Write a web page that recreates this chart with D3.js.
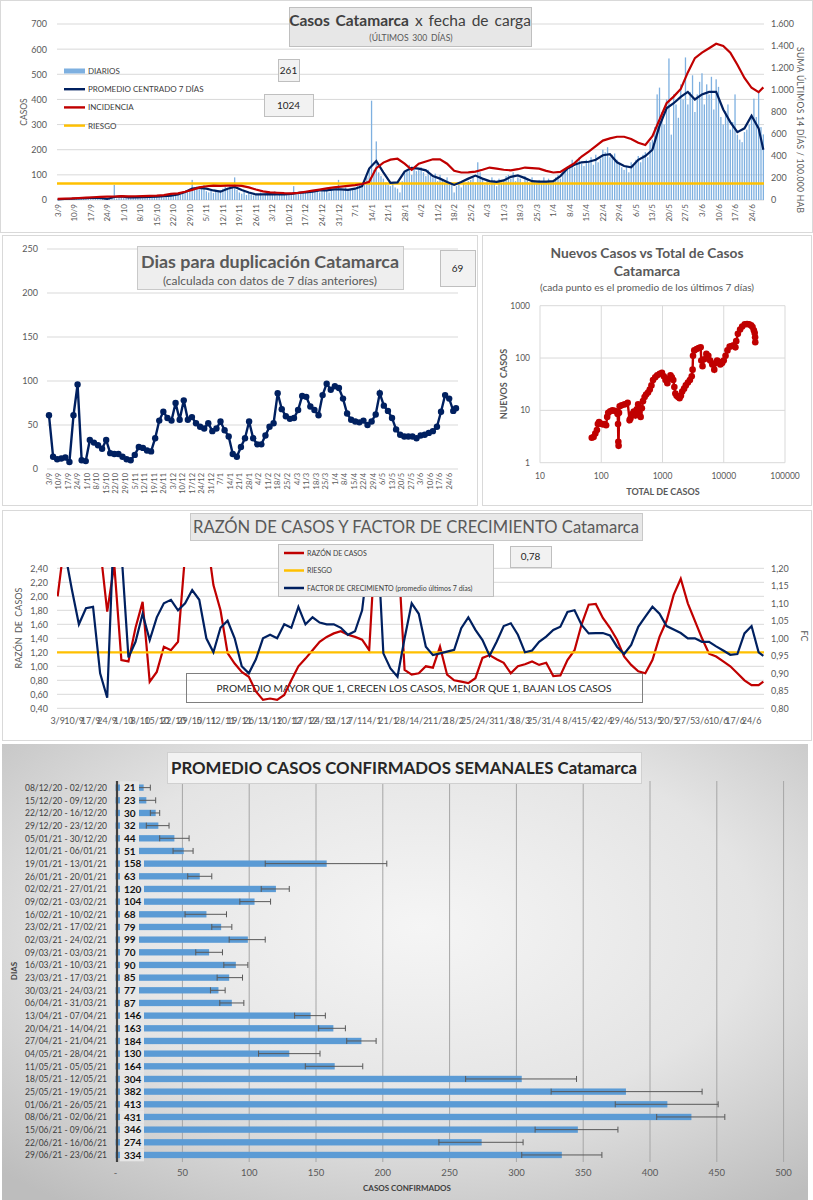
<!DOCTYPE html>
<html>
<head>
<meta charset="utf-8">
<script src="https://cdn.jsdelivr.net/npm/d3@7"></script>
<style>
  body { margin: 0; background: #fff; }
  svg { display: block; font-family: Lato, 'Open Sans', sans-serif; }
</style>
</head>
<body>
<svg id="chart" width="813" height="1200"></svg>
<script>
// ---------- data ----------
const weekLabels = ["3/9","10/9","17/9","24/9","1/10","8/10","15/10","22/10","29/10","5/11","12/11","19/11","26/11",
  "3/12","10/12","17/12","24/12","31/12","7/1","14/1","21/1","28/1","4/2","11/2","18/2","25/2","4/3","11/3","18/3",
  "25/3","1/4","8/4","15/4","22/4","29/4","6/5","13/5","20/5","27/5","3/6","10/6","17/6","24/6"];

// casos diarios, una fila por semana (3/9 ... 29/6)
const diarios = [
  2,4,3,6,2,5,4,  5,3,8,6,4,9,5,  12,8,6,10,4,7,9,  3,5,8,60,6,10,12,
  8,12,9,14,10,7,11,  10,14,8,12,16,9,13,  12,18,14,10,20,15,17,  18,22,25,20,28,30,35,
  45,80,50,55,40,48,60,  35,30,42,28,38,32,40,  45,52,48,60,55,90,40,  30,25,35,20,28,22,18,
  25,20,30,18,22,26,20,  22,35,18,25,20,28,24,  20,25,55,22,28,25,30,  30,28,35,32,40,38,30,
  35,42,38,30,45,40,48,  80,45,38,50,44,40,48,  48,55,60,52,65,90,120,  395,120,233,110,95,85,70,
  60,55,70,50,45,30,75,  110,120,140,100,130,115,125,  130,110,95,120,100,90,105,  75,100,80,65,90,70,60,
  30,55,65,50,70,60,75,  80,95,70,150,110,85,60,  75,60,90,80,55,85,70,  80,95,100,85,110,75,90,
  85,70,95,80,65,90,75,  70,80,65,90,75,85,70,  80,90,100,85,110,120,130,  140,160,130,150,170,145,135,
  160,150,170,140,180,150,165,  200,190,210,170,180,185,160,  145,130,120,135,110,150,140,
  160,175,150,180,190,170,230,  240,290,420,447,350,300,400,  563,260,420,380,327,460,400,
  567,380,430,496,350,420,470,  504,380,460,420,490,360,480,  450,330,300,353,380,280,310,
  420,260,240,230,270,280,300,  340,403,330,427,290,261
];

// dias (indice desde 3/9) de las series de lineas
const lineDays = d3.range(0, 300, 3).concat([299]);

const promedio7 = [
  2,4,5,6,7,9,8,4,12,14,
  10,10,11,12,13,15,17,22,32,45,
  48,45,38,33,45,52,40,30,22,22,
  23,22,22,24,28,30,33,38,38,42,
  42,40,45,55,125,155,110,68,70,113,
  128,125,118,95,85,72,60,72,85,97,
  85,75,72,78,92,98,87,75,73,73,
  75,95,125,140,150,152,160,178,182,150,
  135,130,160,175,200,295,365,385,410,430,
  400,420,430,430,360,310,270,285,335,285,
  200
];

const incidencia = [
  10,12,14,18,22,25,28,30,32,35,
  33,34,36,38,40,45,55,60,75,92,
  115,125,130,128,130,132,128,115,95,78,
  70,66,62,60,65,75,85,95,105,115,
  122,128,135,145,165,290,340,367,375,330,
  275,330,350,370,370,330,265,250,252,258,
  275,295,285,275,270,280,295,290,285,265,
  250,255,295,335,395,440,490,540,560,575,
  575,555,520,500,580,730,880,940,1010,1160,
  1290,1340,1380,1420,1400,1340,1230,1110,1020,980,
  1024
];

const riesgoIncidencia = 150;
const casosTicks = [0,100,200,300,400,500,600,700];
const sumaTicks = [0,200,400,600,800,1000,1200,1400,1600];
const sumaTickLabels = ["0","200","400","600","800","1.000","1.200","1.400","1.600"];
const ultimoDiario = "261", ultimaIncidencia = "1024";

const duplicacion = [
  61,14,11,12,13,8,61,96,10,9,
  33,30,27,23,33,18,17,17,14,11,
  10,16,25,24,21,20,35,55,65,58,
  55,75,56,78,56,59,52,48,46,52,
  43,46,54,44,37,17,14,25,35,54,
  35,28,28,38,48,52,86,68,60,57,
  58,67,83,82,71,67,61,84,97,90,
  94,92,80,63,56,54,53,55,50,54,
  62,86,72,66,58,45,39,37,37,37,
  35,38,39,41,43,48,65,84,80,66,
  69
];
const dupTicks = [0,50,100,150,200,250];
const ultimoDup = "69";

const totalCasos = [70,75,80,85,88,92,98,105,112,120,125,130,140,152,165,178,185,188,190,192,
  195,200,215,240,270,290,300,320,340,360,380,400,420,440,460,480,510,540,580,620,
  660,700,760,820,900,980,1050,1120,1200,1280,1350,1420,1500,1560,1620,1700,1800,1900,2000,2100,
  2250,2400,2600,2800,3000,3100,3150,3300,3600,3900,4200,4300,4500,4800,5200,5600,6000,6500,7000,7400,
  7800,8300,8800,9400,10000,10700,11500,12500,13500,14500,15500,16000,17000,18500,20000,22000,24000,26000,28000,29500,
  31000,32000,32500,32700];
const nuevosCasos = [3.0,3.1,3.6,4.2,5.5,6.0,5.6,5.4,5.5,5.2,7.5,9.0,9.6,10,9.8,9.5,8.5,5.5,2.5,2.1,
  9,12,12.5,13,14,6.5,7,8.5,9.5,8,10.5,13,9,7.5,11,15,18,20,22,25,
  30,38,43,47,50,52,45,38,33,40,47,43,38,28,21,19,18,17,19,23,
  26,30,34,38,45,60,110,140,148,155,160,90,70,95,120,110,90,75,60,80,
  90,85,75,80,90,110,140,165,170,175,160,210,290,350,400,440,445,440,420,390,
  340,300,250,200];
const logTicksX = [10,100,1000,10000,100000];
const logTicksY = [1,10,100,1000];

const razon = [
  2.00,2.8,3.2,3.0,2.9,2.8,2.7,1.78,2.45,1.09,
  1.07,1.55,1.92,0.78,0.92,1.28,1.23,1.35,2.6,3.0,
  3.2,2.9,2.16,1.80,1.19,1.04,0.92,0.85,0.64,0.52,
  0.54,0.52,0.59,0.80,1.00,1.11,1.23,1.35,1.42,1.47,
  1.50,1.45,1.42,1.38,1.23,3.0,3.4,3.2,2.8,0.95,
  0.88,0.90,1.00,0.98,1.28,0.88,0.80,0.78,0.76,0.83,
  1.12,1.16,1.10,1.05,0.90,1.00,1.03,1.07,1.02,1.05,
  0.86,0.87,1.09,1.23,1.60,1.88,1.89,1.69,1.55,1.38,
  1.14,1.02,0.93,0.90,1.09,1.42,1.65,2.02,2.25,1.90,
  1.65,1.40,1.18,1.14,1.07,1.00,0.90,0.80,0.73,0.73,
  0.78
];
const factor = [
  1.30,1.25,1.14,1.04,1.086,1.09,0.90,0.83,1.35,1.25,
  0.945,0.99,1.07,0.995,1.06,1.10,1.11,1.08,1.10,1.138,
  1.11,1.00,0.96,1.03,1.05,1.00,0.92,0.90,0.94,1.00,
  1.01,1.00,1.04,1.03,1.09,1.04,1.06,1.045,1.04,1.04,
  1.03,1.01,1.02,1.08,1.25,1.35,0.957,0.914,0.89,1.00,
  1.10,1.07,0.976,0.952,0.957,0.962,0.967,1.029,1.06,1.024,
  0.995,0.95,0.99,1.035,1.043,1.01,0.96,0.965,0.99,1.005,
  1.024,1.033,1.075,1.08,1.038,1.014,1.015,1.015,1.008,0.976,
  0.955,0.981,1.033,1.062,1.09,1.07,1.035,1.025,1.015,1.00,
  1.00,0.99,0.99,0.977,0.965,0.953,0.955,1.014,1.035,0.96,
  0.95
];
const razonTicks = [0.4,0.6,0.8,1.0,1.2,1.4,1.6,1.8,2.0,2.2,2.4];
const factorTicks = [0.8,0.85,0.9,0.95,1.0,1.05,1.1,1.15,1.2];
const riesgoRazon = 1.2;
const ultimaRazon = "0,78";

const semanas = ["08/12/20 - 02/12/20","15/12/20 - 09/12/20","22/12/20 - 16/12/20","29/12/20 - 23/12/20",
  "05/01/21 - 30/12/20","12/01/21 - 06/01/21","19/01/21 - 13/01/21","26/01/21 - 20/01/21","02/02/21 - 27/01/21",
  "09/02/21 - 03/02/21","16/02/21 - 10/02/21","23/02/21 - 17/02/21","02/03/21 - 24/02/21","09/03/21 - 03/03/21",
  "16/03/21 - 10/03/21","23/03/21 - 17/03/21","30/03/21 - 24/03/21","06/04/21 - 31/03/21","13/04/21 - 07/04/21",
  "20/04/21 - 14/04/21","27/04/21 - 21/04/21","04/05/21 - 28/04/21","11/05/21 - 05/05/21","18/05/21 - 12/05/21",
  "25/05/21 - 19/05/21","01/06/21 - 26/05/21","08/06/21 - 02/06/21","15/06/21 - 09/06/21","22/06/21 - 16/06/21",
  "29/06/21 - 23/06/21"];
const promedioSemanal = [21,23,30,32,44,51,158,63,120,104,68,79,99,70,90,85,77,87,146,163,184,130,164,304,382,413,431,346,274,334];
const errBajo = [17,17,26,23,33,43,112,54,109,93,52,72,85,60,81,76,71,78,134,152,173,107,142,262,326,374,405,314,242,304];
const errAlto = [26,30,33,40,55,58,203,72,130,116,83,87,112,80,99,95,82,96,157,172,195,153,185,345,439,451,456,376,305,364];
const semanalTicks = [0,50,100,150,200,250,300,350,400,450,500];

// ---------- helpers ----------
const svg = d3.select("#chart");
const TXT = "#595959", GRID = "#d9d9d9", NAVY = "#002060", RED = "#c00000", GOLD = "#ffc000";
const coma = (d, n) => d3.format("." + n + "f")(d).replace(".", ",");

function frame(x, y, w, h) {
  svg.append("rect").attr("x", x + 0.5).attr("y", y + 0.5).attr("width", w).attr("height", h)
    .attr("fill", "#fff").attr("stroke", "#d9d9d9");
}
function boxText(x, y, w, h, txt, fill) {
  svg.append("rect").attr("x", x + 0.5).attr("y", y + 0.5).attr("width", w).attr("height", h)
    .attr("fill", fill || "#f2f2f2").attr("stroke", "#bfbfbf");
  svg.append("text").attr("x", x + w / 2).attr("y", y + h / 2 + 3.5).attr("text-anchor", "middle")
    .attr("font-size", 10).attr("fill", "#262626").text(txt);
}
function styleAxis(g, size) {
  g.attr("font-family", null).attr("font-size", size);
  g.select(".domain").remove();
  g.selectAll("text").attr("fill", TXT);
}

// ---------- panel 1: casos x fecha de carga ----------
frame(0, 0, 812, 232);
const x1 = d3.scaleBand().domain(d3.range(diarios.length)).range([57, 764]).paddingInner(0.45);
const cx1 = i => x1(i) + x1.bandwidth() / 2;
const y1 = d3.scaleLinear().domain([0, 700]).range([200, 24]);
const y1r = d3.scaleLinear().domain([0, 1600]).range([200, 24]);

svg.append("g").selectAll("line").data(casosTicks).enter().append("line")
  .attr("x1", 57).attr("x2", 764).attr("y1", d => y1(d)).attr("y2", d => y1(d)).attr("stroke", GRID);

svg.append("g").attr("transform", "translate(57,0)")
  .call(d3.axisLeft(y1).tickValues(casosTicks).tickSize(0).tickPadding(10))
  .call(g => styleAxis(g, 9));
svg.append("g").attr("transform", "translate(764,0)")
  .call(d3.axisRight(y1r).tickValues(sumaTicks).tickSize(0).tickPadding(7).tickFormat((d, i) => sumaTickLabels[i]))
  .call(g => styleAxis(g, 9));

svg.append("g").selectAll("text").data(weekLabels).enter().append("text")
  .attr("transform", (d, i) => "translate(" + (cx1(i * 7) + 3) + ",204) rotate(-90)")
  .attr("text-anchor", "end").attr("font-size", 8).attr("fill", TXT).text(d => d);

svg.append("g").selectAll("rect").data(diarios).enter().append("rect")
  .attr("x", (d, i) => x1(i)).attr("width", x1.bandwidth())
  .attr("y", d => y1(d)).attr("height", d => 200 - y1(d))
  .attr("fill", "#7eb0e0");

svg.append("line").attr("x1", 57).attr("x2", 764)
  .attr("y1", y1r(riesgoIncidencia)).attr("y2", y1r(riesgoIncidencia))
  .attr("stroke", GOLD).attr("stroke-width", 2.5);

const line1 = d3.line().x(d => cx1(d[0])).y(d => d[1]);
svg.append("path").datum(lineDays.map((d, i) => [d, y1(promedio7[i])]))
  .attr("d", line1).attr("fill", "none").attr("stroke", NAVY).attr("stroke-width", 2.2);
svg.append("path").datum(lineDays.map((d, i) => [d, y1r(incidencia[i])]))
  .attr("d", line1).attr("fill", "none").attr("stroke", RED).attr("stroke-width", 2.2);

// legend
const leg1 = [
  {name: "DIARIOS", type: "bar", color: "#7eb0e0"},
  {name: "PROMEDIO CENTRADO 7 DÍAS", type: "line", color: NAVY},
  {name: "INCIDENCIA", type: "line", color: RED},
  {name: "RIESGO", type: "line", color: GOLD}
];
const lg1 = svg.append("g").selectAll("g").data(leg1).enter().append("g")
  .attr("transform", (d, i) => "translate(64," + (71 + i * 18.2) + ")");
lg1.append("rect").attr("x", 0).attr("width", 21)
  .attr("y", d => d.type === "bar" ? -2.5 : -1.2).attr("height", d => d.type === "bar" ? 5 : 2.4)
  .attr("fill", d => d.color);
lg1.append("text").attr("x", 24).attr("y", 3).attr("font-size", 8).attr("fill", "#404040").text(d => d.name);

svg.append("rect").attr("x", 289.5).attr("y", 7.5).attr("width", 242).attr("height", 39)
  .attr("fill", "#e7e7e7").attr("stroke", "#bfbfbf");
const t1 = svg.append("text").attr("x", 410).attr("y", 26).attr("text-anchor", "middle")
  .attr("font-size", 15.5).attr("fill", "#404040").attr("word-spacing", 2);
t1.append("tspan").attr("font-weight", "bold").text("Casos Catamarca");
t1.append("tspan").text(" x fecha de carga");
svg.append("text").attr("x", 411).attr("y", 41).attr("text-anchor", "middle")
  .attr("font-size", 8.6).attr("fill", TXT).attr("word-spacing", 1.5).text("(ÚLTIMOS 300 DÍAS)");

boxText(278, 59, 21, 22, ultimoDiario);
boxText(264, 94, 49, 22, ultimaIncidencia);

svg.append("text").attr("transform", "translate(27,112) rotate(-90)").attr("text-anchor", "middle")
  .attr("font-size", 8.5).attr("fill", TXT).text("CASOS");
svg.append("text").attr("transform", "translate(797,130) rotate(90)").attr("text-anchor", "middle")
  .attr("font-size", 8.5).attr("fill", TXT).attr("textLength", 166).attr("lengthAdjust", "spacing")
  .text("SUMA ÚLTIMOS 14 DÍAS / 100.000 HAB");

// ---------- panel 2: dias para duplicacion ----------
frame(2, 235, 475, 270);
const xD = d3.scaleLinear().domain([0, 299]).range([49, 456]);
const yD = d3.scaleLinear().domain([0, 250]).range([469, 249]);

svg.append("g").selectAll("line").data(dupTicks).enter().append("line")
  .attr("x1", 47).attr("x2", 458).attr("y1", d => yD(d)).attr("y2", d => yD(d)).attr("stroke", GRID);
svg.append("g").attr("transform", "translate(47,0)")
  .call(d3.axisLeft(yD).tickValues(dupTicks).tickSize(0).tickPadding(9))
  .call(g => styleAxis(g, 9));
svg.append("g").selectAll("text").data(weekLabels).enter().append("text")
  .attr("transform", (d, i) => "translate(" + (xD(i * 7) + 2.8) + ",473) rotate(-90)")
  .attr("text-anchor", "end").attr("font-size", 7.5).attr("fill", TXT).text(d => d);

const dupPts = lineDays.map((d, i) => [xD(d), yD(duplicacion[i])]);
svg.append("path").datum(dupPts).attr("d", d3.line()).attr("fill", "none")
  .attr("stroke", NAVY).attr("stroke-width", 2.4);
svg.append("g").selectAll("circle").data(dupPts).enter().append("circle")
  .attr("cx", d => d[0]).attr("cy", d => d[1]).attr("r", 3.2).attr("fill", NAVY);

svg.append("rect").attr("x", 137.5).attr("y", 246.5).attr("width", 266).attr("height", 43)
  .attr("fill", "#eeeeee").attr("stroke", "#c9c9c9");
svg.append("text").attr("x", 270).attr("y", 268).attr("text-anchor", "middle").attr("font-size", 17)
  .attr("font-weight", "bold").attr("fill", TXT).attr("textLength", 258).attr("lengthAdjust", "spacingAndGlyphs")
  .text("Dias para duplicación Catamarca");
svg.append("text").attr("x", 270).attr("y", 285).attr("text-anchor", "middle").attr("font-size", 10.5)
  .attr("fill", TXT).attr("textLength", 214).attr("lengthAdjust", "spacingAndGlyphs")
  .text("(calculada con datos de 7 días anteriores)");
boxText(440, 250, 35, 36, ultimoDup);

// ---------- panel 3: nuevos casos vs total ----------
frame(482, 235, 329, 270);
const xS = d3.scaleLog().domain([10, 100000]).range([540, 785]);
const yS = d3.scaleLog().domain([1, 1000]).range([462.7, 305.7]);

svg.append("g").selectAll("line").data(logTicksX).enter().append("line")
  .attr("x1", d => xS(d)).attr("x2", d => xS(d)).attr("y1", 305.7).attr("y2", 462.7).attr("stroke", GRID);
svg.append("g").selectAll("line").data(logTicksY).enter().append("line")
  .attr("x1", 540).attr("x2", 785).attr("y1", d => yS(d)).attr("y2", d => yS(d)).attr("stroke", GRID);
svg.append("g").selectAll("text").data(logTicksX).enter().append("text")
  .attr("x", d => xS(d)).attr("y", 478.5).attr("text-anchor", "middle").attr("font-size", 8.5)
  .attr("fill", TXT).text(d => String(d));
svg.append("g").selectAll("text").data(logTicksY).enter().append("text")
  .attr("x", 530).attr("y", d => yS(d) + 3).attr("text-anchor", "end").attr("font-size", 8.5)
  .attr("fill", TXT).text(d => String(d));

const scPts = totalCasos.map((t, i) => [xS(t), yS(nuevosCasos[i])]);
svg.append("path").datum(scPts).attr("d", d3.line()).attr("fill", "none")
  .attr("stroke", RED).attr("stroke-width", 2.4);
svg.append("g").selectAll("circle").data(scPts).enter().append("circle")
  .attr("cx", d => d[0]).attr("cy", d => d[1]).attr("r", 3.3).attr("fill", RED);

svg.append("text").attr("x", 647).attr("y", 258).attr("text-anchor", "middle").attr("font-size", 14)
  .attr("font-weight", "bold").attr("fill", TXT).attr("textLength", 193).attr("lengthAdjust", "spacingAndGlyphs")
  .text("Nuevos Casos vs Total de Casos");
svg.append("text").attr("x", 647).attr("y", 276).attr("text-anchor", "middle").attr("font-size", 14)
  .attr("font-weight", "bold").attr("fill", TXT).text("Catamarca");
svg.append("text").attr("x", 647).attr("y", 290.5).attr("text-anchor", "middle").attr("font-size", 9)
  .attr("fill", TXT).attr("textLength", 214).attr("lengthAdjust", "spacingAndGlyphs")
  .text("(cada punto es el promedio de los últimos 7 días)");
svg.append("text").attr("x", 663).attr("y", 495).attr("text-anchor", "middle").attr("font-size", 9)
  .attr("font-weight", "bold").attr("fill", TXT).text("TOTAL DE CASOS");
svg.append("text").attr("transform", "translate(507,384) rotate(-90)").attr("text-anchor", "middle")
  .attr("font-size", 9).attr("font-weight", "bold").attr("fill", TXT).attr("word-spacing", 2).text("NUEVOS CASOS");

// ---------- panel 4: razon de casos y factor de crecimiento ----------
frame(2, 510, 809, 230);
const yL4 = d3.scaleLinear().domain([0.4, 2.4]).range([708.3, 568.3]);
const yR4 = d3.scaleLinear().domain([0.8, 1.2]).range([708.3, 568.3]);

svg.append("g").selectAll("line").data(razonTicks).enter().append("line")
  .attr("x1", 57).attr("x2", 764).attr("y1", d => yL4(d)).attr("y2", d => yL4(d)).attr("stroke", GRID);
svg.append("g").attr("transform", "translate(57,0)")
  .call(d3.axisLeft(yL4).tickValues(razonTicks).tickSize(0).tickPadding(9).tickFormat(d => coma(d, 2)))
  .call(g => styleAxis(g, 9));
svg.append("g").attr("transform", "translate(764,0)")
  .call(d3.axisRight(yR4).tickValues(factorTicks).tickSize(0).tickPadding(7).tickFormat(d => coma(d, 2)))
  .call(g => styleAxis(g, 9));
// etiquetas de fecha: en el original se pisan unas con otras
svg.append("g").selectAll("text").data(weekLabels).enter().append("text")
  .attr("x", (d, i) => cx1(i * 7)).attr("y", 724).attr("text-anchor", "middle")
  .attr("font-size", 9).attr("fill", TXT).text(d => d);

svg.append("rect").attr("x", 186.5).attr("y", 673.5).attr("width", 456).attr("height", 29)
  .attr("fill", "none").attr("stroke", "#7f7f7f");
svg.append("text").attr("x", 414).attr("y", 692).attr("text-anchor", "middle").attr("font-size", 10)
  .attr("fill", "#262626").attr("textLength", 395).attr("lengthAdjust", "spacingAndGlyphs")
  .text("PROMEDIO MAYOR QUE 1, CRECEN LOS CASOS, MENOR QUE 1, BAJAN LOS CASOS");

svg.append("defs").append("clipPath").attr("id", "clip4").append("rect")
  .attr("x", 57).attr("y", 567).attr("width", 707).attr("height", 142);
const p4 = svg.append("g").attr("clip-path", "url(#clip4)");
const line4 = d3.line().x(d => cx1(d[0])).y(d => d[1]);
p4.append("path").datum(lineDays.map((d, i) => [d, yL4(razon[i])]))
  .attr("d", line4).attr("fill", "none").attr("stroke", RED).attr("stroke-width", 2.2);
p4.append("line").attr("x1", 57).attr("x2", 764).attr("y1", yL4(riesgoRazon)).attr("y2", yL4(riesgoRazon))
  .attr("stroke", GOLD).attr("stroke-width", 2.2);
p4.append("path").datum(lineDays.map((d, i) => [d, yR4(factor[i])]))
  .attr("d", line4).attr("fill", "none").attr("stroke", NAVY).attr("stroke-width", 2.2);

svg.append("rect").attr("x", 190.5).attr("y", 513.5).attr("width", 452).attr("height", 27)
  .attr("fill", "#e8e8e8").attr("stroke", "#c8c8c8");
svg.append("text").attr("x", 416).attr("y", 533).attr("text-anchor", "middle").attr("font-size", 17)
  .attr("fill", TXT).attr("textLength", 446).attr("lengthAdjust", "spacingAndGlyphs")
  .text("RAZÓN DE CASOS Y FACTOR DE CRECIMIENTO Catamarca");

svg.append("rect").attr("x", 278.5).attr("y", 544.5).attr("width", 215).attr("height", 52)
  .attr("fill", "#efefef").attr("stroke", "#bfbfbf");
const leg4 = [
  {name: "RAZÓN DE CASOS", color: RED},
  {name: "RIESGO", color: GOLD},
  {name: "FACTOR DE CRECIMIENTO (promedio últimos 7 días)", color: NAVY}
];
const lg4 = svg.append("g").selectAll("g").data(leg4).enter().append("g")
  .attr("transform", (d, i) => "translate(284," + (553 + i * 17.5) + ")");
lg4.append("line").attr("x1", 0).attr("x2", 20).attr("stroke", d => d.color).attr("stroke-width", 2.5);
lg4.append("text").attr("x", 23).attr("y", 2.5).attr("font-size", 7).attr("fill", "#404040").text(d => d.name);
boxText(510, 546, 41, 21, ultimaRazon);

svg.append("text").attr("transform", "translate(22,628) rotate(-90)").attr("text-anchor", "middle")
  .attr("font-size", 9).attr("fill", TXT).attr("word-spacing", 2).text("RAZÓN DE CASOS");
svg.append("text").attr("transform", "translate(801,636) rotate(90)").attr("text-anchor", "middle")
  .attr("font-size", 9).attr("fill", TXT).text("FC");

// ---------- panel 5: promedio semanal ----------
const grad = svg.select("defs").append("radialGradient").attr("id", "bg5")
  .attr("cx", "52%").attr("cy", "40%").attr("r", "75%");
grad.append("stop").attr("offset", "0%").attr("stop-color", "#f5f5f5");
grad.append("stop").attr("offset", "55%").attr("stop-color", "#e4e4e4");
grad.append("stop").attr("offset", "100%").attr("stop-color", "#bdbdbd");
svg.append("rect").attr("x", 2).attr("y", 744).attr("width", 806).attr("height", 456).attr("fill", "url(#bg5)");

const xB = d3.scaleLinear().domain([0, 500]).range([115.6, 783.6]);
const yB = d3.scaleBand().domain(semanas).range([781.3, 1161.3]).paddingInner(0.5).paddingOuter(0.25);

svg.append("g").selectAll("line").data(semanalTicks.slice(1)).enter().append("line")
  .attr("x1", d => xB(d)).attr("x2", d => xB(d)).attr("y1", 781).attr("y2", 1162)
  .attr("stroke", "#a6a6a6");
svg.append("g").selectAll("text").data(semanalTicks).enter().append("text")
  .attr("x", d => xB(d)).attr("y", 1176).attr("text-anchor", "middle").attr("font-size", 9.5)
  .attr("fill", TXT).text(d => d === 0 ? "-" : String(d));

svg.append("g").selectAll("rect").data(promedioSemanal).enter().append("rect")
  .attr("x", xB(0)).attr("y", (d, i) => yB(semanas[i]))
  .attr("width", d => xB(d) - xB(0)).attr("height", yB.bandwidth())
  .attr("fill", "#5b9bd5");

const eb = svg.append("g").selectAll("g").data(promedioSemanal).enter().append("g")
  .attr("transform", (d, i) => "translate(0," + (yB(semanas[i]) + yB.bandwidth() / 2) + ")")
  .attr("stroke", "#595959").attr("stroke-width", 1);
eb.append("line").attr("x1", (d, i) => xB(errBajo[i])).attr("x2", (d, i) => xB(errAlto[i]));
eb.append("line").attr("x1", (d, i) => xB(errBajo[i])).attr("x2", (d, i) => xB(errBajo[i])).attr("y1", -3).attr("y2", 3);
eb.append("line").attr("x1", (d, i) => xB(errAlto[i])).attr("x2", (d, i) => xB(errAlto[i])).attr("y1", -3).attr("y2", 3);

const dl = svg.append("g").selectAll("g").data(promedioSemanal).enter().append("g")
  .attr("transform", (d, i) => "translate(120," + (yB(semanas[i]) + yB.bandwidth() / 2) + ")");
dl.append("rect").attr("x", 0).attr("y", -yB.step() / 2).attr("height", yB.step())
  .attr("width", d => d >= 100 ? 24 : 19).attr("fill", "#e6e6e6");
dl.append("text").attr("x", 4).attr("y", 3.6).attr("font-size", 10).attr("font-weight", "bold")
  .attr("fill", "#111").text(d => d);

svg.append("line").attr("x1", 117).attr("x2", 117).attr("y1", 781).attr("y2", 1162)
  .attr("stroke", "#404040").attr("stroke-width", 2.2);

svg.append("g").selectAll("text").data(semanas).enter().append("text")
  .attr("x", 107).attr("y", d => yB(d) + yB.bandwidth() / 2 + 3.4).attr("text-anchor", "end")
  .attr("font-size", 9.2).attr("fill", "#404040").attr("textLength", 82).attr("lengthAdjust", "spacingAndGlyphs")
  .text(d => d);

svg.append("rect").attr("x", 167.5).attr("y", 752.5).attr("width", 474).attr("height", 31)
  .attr("fill", "#f2f2f2").attr("stroke", "#d0d0d0");
svg.append("text").attr("x", 404).attr("y", 774).attr("text-anchor", "middle").attr("font-size", 17)
  .attr("font-weight", "bold").attr("fill", "#262626").attr("textLength", 466).attr("lengthAdjust", "spacingAndGlyphs")
  .text("PROMEDIO CASOS CONFIRMADOS SEMANALES Catamarca");
svg.append("text").attr("x", 407).attr("y", 1191).attr("text-anchor", "middle").attr("font-size", 8)
  .attr("font-weight", "bold").attr("fill", "#404040").text("CASOS CONFIRMADOS");
svg.append("text").attr("transform", "translate(17,971) rotate(-90)").attr("text-anchor", "middle")
  .attr("font-size", 8).attr("font-weight", "bold").attr("fill", "#404040").text("DIAS");
</script>
</body>
</html>
